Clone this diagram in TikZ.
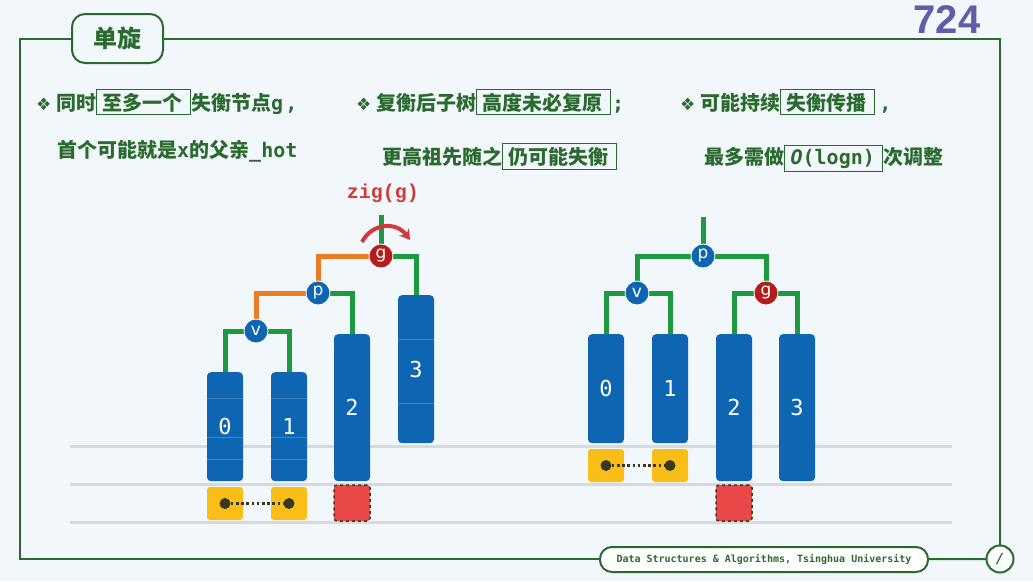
\documentclass[tikz,border=0pt]{standalone}
\usepackage{fontspec}
\setmainfont{Noto Sans CJK SC}
\newfontfamily\mono{DejaVu Sans Mono}
\newfontfamily\symf{DejaVu Sans}
\newfontfamily\numf{Liberation Sans}
\newfontfamily\zigf{Liberation Mono}
\usetikzlibrary{arrows.meta,backgrounds}
\pgfdeclarelayer{edges}
\pgfsetlayers{background,edges,main}
\definecolor{bg}{HTML}{F1F7FB}
\definecolor{dkgreen}{HTML}{2B6A2F}
\definecolor{egreen}{HTML}{1C9A40}
\definecolor{eorange}{HTML}{EE7A24}
\definecolor{blk}{HTML}{0E66B3}
\definecolor{nred}{HTML}{B51C1C}
\definecolor{ylw}{HTML}{F9BE17}
\definecolor{rsq}{HTML}{E84848}
\definecolor{gline}{HTML}{D6DADE}
\definecolor{purp}{HTML}{5E5FA8}
\definecolor{zred}{HTML}{D23A3A}
\definecolor{dotc}{HTML}{38381C}
\newcommand{\bx}[1]{{\setlength\fboxsep{2.5pt}\setlength\fboxrule{0.9pt}\fbox{\hspace{3pt}#1\hspace{5pt}}}}
\newcommand{\bul}{{\symf\fontsize{17}{17}\selectfont ❖}\hspace{5pt}}
\tikzset{
  tn/.style={circle, draw=white, line width=0.8pt, minimum size=24pt, inner sep=0pt, text=white, font=\symf\fontsize{17}{17}\selectfont},
  bnode/.style={tn, fill=blk},
  rnode/.style={tn, fill=nred},
  blkbox/.style={fill=blk, rounded corners=4pt, minimum width=36pt, inner sep=0pt, text=white, font=\mono\fontsize{22}{22}\selectfont, anchor=north},
  ysq/.style={fill=ylw, rounded corners=3pt, minimum width=36pt, minimum height=33pt, inner sep=0pt},
  rsqr/.style={fill=rsq, draw=dotc, dashed, line width=1.5pt, rounded corners=3pt, minimum width=36pt, minimum height=36pt, inner sep=0pt},
  gedge/.style={line width=5pt, egreen},
  oedge/.style={line width=5pt, eorange},
  dotn/.style={circle, fill=dotc, minimum size=11pt, inner sep=0pt},
  dotl/.style={dotc, line width=2.6pt, dash pattern=on 2.6pt off 2.6pt},
  txt/.style={anchor=base west, inner sep=0pt, text=dkgreen, font=\fontsize{20}{22}\selectfont\bfseries},
  segl/.style={white, opacity=0.22, line width=0.8pt},
  gl/.style={gline, line width=3pt}
}
\begin{document}
\begin{tikzpicture}[x=1pt,y=-1pt]
\begin{pgfonlayer}{background}
\fill[bg] (0,0) rectangle (1033,581);
\useasboundingbox (0,0) rectangle (1033,581);
\draw[gl] (70,446) -- (952,446);
\draw[gl] (70,484) -- (952,484);
\draw[gl] (70,522) -- (952,522);
\end{pgfonlayer}

% frame
\draw[dkgreen, line width=2pt] (20,39) rectangle (1000,559);
\node[draw=dkgreen, line width=2pt, fill=bg, rounded corners=13pt, minimum width=91pt, minimum height=49pt, text=dkgreen, font=\fontsize{24}{24}\selectfont\bfseries] (title) at (117.5,38.5) {单旋};
\node[text=purp, font=\numf\bfseries\fontsize{40}{40}\selectfont, inner sep=0pt] (num) at (947,20) {724};

% text
\node[txt] (t1a) at (36,110) {\bul 同时\bx{至多一个}失衡节点{\mono g}\hspace{2pt}{\mono ,}};
\node[txt] (t1b) at (57,157) {首个可能就是{\mono x}的父亲{\mono\_hot}};
\node[txt] (t2a) at (356,110) {\bul 复衡后子树\bx{高度未必复原}\hspace{1pt}{\mono ;}};
\node[txt] (t2b) at (382,164) {更高祖先随之\bx{仍可能失衡}};
\node[txt] (t3a) at (680,110) {\bul 可能持续\bx{失衡传播}\hspace{4pt}{\mono ,}};
\node[txt] (t3b) at (704,164) {最多需做\bx{{\mono\itshape O}{\mono (logn)}}次调整};

% ---------- left tree ----------
\node[rnode] (gL) at (381,256) {g};
\node[bnode] (pL) at (318,293) {p};
\node[bnode] (vL) at (256,331) {v};
\node[blkbox, minimum height=109pt] (a0) at (225,372) {0};
\node[blkbox, minimum height=109pt] (a1) at (289,372) {1};
\node[blkbox, minimum height=147pt] (a2) at (352,334) {2};
\node[blkbox, minimum height=148pt] (a3) at (416,295) {3};
\coordinate (gLtop) at (381,215);
\begin{pgfonlayer}{edges}
\draw[gedge] (gLtop) -- (gL);
\draw[oedge] (gL) -| (pL);
\draw[oedge] (pL) -| (vL);
\draw[gedge] (gL) -| (a3.north);
\draw[gedge] (pL) -| (a2.north);
\draw[gedge] (vL) -| (a0.north);
\draw[gedge] (vL) -| (a1.north);
\end{pgfonlayer}
\foreach \yy in {398,437,459}{
  \draw[segl] (a0.west |- 0,\yy) -- (a0.east |- 0,\yy);
  \draw[segl] (a1.west |- 0,\yy) -- (a1.east |- 0,\yy);
}
\foreach \yy in {339,403}{
  \draw[segl] (a3.west |- 0,\yy) -- (a3.east |- 0,\yy);
}
\node[ysq] (ya0) at (225,503.5) {};
\node[ysq] (ya1) at (289,503.5) {};
\node[dotn] (da0) at (ya0) {};
\node[dotn] (da1) at (ya1) {};
\draw[dotl] (da0) -- (da1);
\node[rsqr] (ra2) at (352,503) {};
\node[text=zred, font=\zigf\bfseries\fontsize{20}{20}\selectfont] (zig) at (383,193) {zig(g)};
\draw[zred, line width=4pt, -{Stealth[length=10pt,width=12pt]}] (362,242) .. controls (372,223) and (396,221) .. (410,240);

% ---------- right tree ----------
\node[bnode] (pR) at (703,256) {p};
\node[bnode] (vR) at (637,293) {v};
\node[rnode] (gR) at (766,293) {g};
\node[blkbox, minimum height=109pt] (c0) at (606,334) {0};
\node[blkbox, minimum height=109pt] (c1) at (670,334) {1};
\node[blkbox, minimum height=147pt] (c2) at (734,334) {2};
\node[blkbox, minimum height=147pt] (c3) at (797,334) {3};
\coordinate (pRtop) at (703,217);
\begin{pgfonlayer}{edges}
\draw[gedge] (pRtop) -- (pR);
\draw[gedge] (pR) -| (vR);
\draw[gedge] (pR) -| (gR);
\draw[gedge] (vR) -| (c0.north);
\draw[gedge] (vR) -| (c1.north);
\draw[gedge] (gR) -| (c2.north);
\draw[gedge] (gR) -| (c3.north);
\end{pgfonlayer}
\node[ysq] (yc0) at (606,465.5) {};
\node[ysq] (yc1) at (670,465.5) {};
\node[dotn] (dc0) at (yc0) {};
\node[dotn] (dc1) at (yc1) {};
\draw[dotl] (dc0) -- (dc1);
\node[rsqr] (rc2) at (734,503) {};

% footer
\node[draw=dkgreen, line width=2pt, fill=white, rounded corners=12pt, minimum width=328pt, minimum height=25pt, text=dkgreen, font=\mono\bfseries\fontsize{10}{10}\selectfont] (foot) at (764,559.5) {Data Structures \& Algorithms, Tsinghua University};
\node[circle, draw=dkgreen, line width=2pt, fill=white, minimum size=27pt, inner sep=0pt, text=dkgreen, font=\mono\bfseries\itshape\fontsize{14}{14}\selectfont] (pg) at (1000,559) {/};
\draw[dkgreen, line width=2pt] (foot) -- (pg);
\end{tikzpicture}
\end{document}
